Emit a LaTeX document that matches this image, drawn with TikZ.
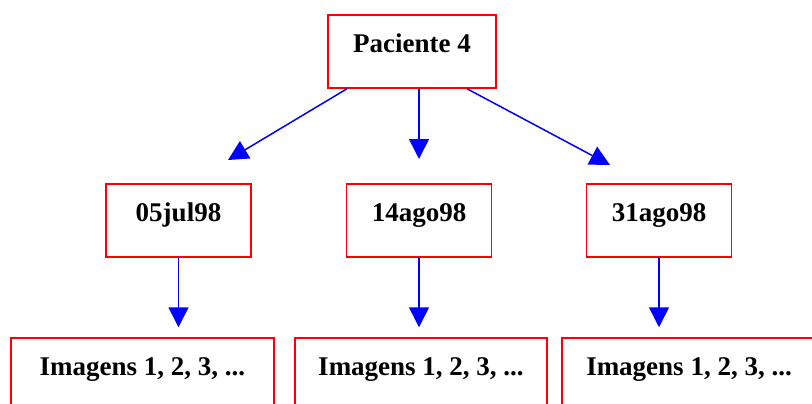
\documentclass[tikz,border=0pt]{standalone}
\usepackage{fontspec}
\setmainfont{Liberation Serif}
\usetikzlibrary{arrows.meta}
\tikzset{
	caixa/.style={draw=red, line width=1.5bp, inner xsep=0pt, inner ysep=0pt,
		text height=37bp, text depth=36bp,
		font=\bfseries\fontsize{27bp}{30bp}\selectfont},
	seta/.style={draw=blue, line width=1.5bp, -{Triangle[length=20bp,width=20bp]}}
}
\begin{document}
\begin{tikzpicture}[x=1bp,y=-1bp]
	\useasboundingbox (0,0) rectangle (812,403);
	% patient
	\node[caixa, minimum width=168bp] (pac) at (412,51.5) {Paciente 4};
	% dates
	\foreach \nome/\x/\rotulo in {d1/178.5/05jul98, d2/419/14ago98, d3/659/31ago98}{
		\node[caixa, minimum width=145bp] (\nome) at (\x,220.5) {\rotulo};
	}
	% images
	\node[caixa, minimum width=263bp] (b1) at (142.5,374.5) {Imagens 1, 2, 3, ...};
	\node[caixa, minimum width=252bp] (b2) at (421,374.5) {Imagens 1, 2, 3, ...};
	\node[caixa, minimum width=254bp] (b3) at (689,374.5) {Imagens 1, 2, 3, ...};
	% arrow tips
	\coordinate (t1) at (228,160);
	\coordinate (t2) at (419,159);
	\coordinate (t3) at (610,165);
	% arrows
	\draw[seta] ([xshift=-65bp]pac.south) -- (t1);
	\draw[seta] (pac.south -| t2) -- (t2);
	\draw[seta] ([xshift=55bp]pac.south) -- (t3);
	\foreach \i in {1,2,3}{
		\draw[seta, shorten >=10bp] (d\i.south) -- (d\i.south |- b\i.north);
	}
\end{tikzpicture}
\end{document}
